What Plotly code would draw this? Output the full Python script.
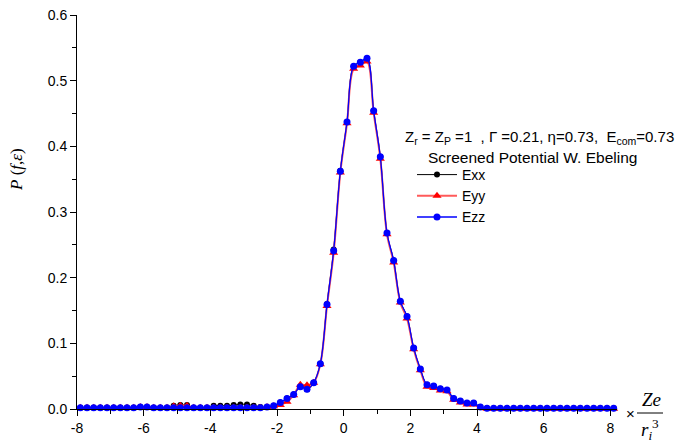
import plotly.graph_objects as go

x_vals = [-7.9, -7.7, -7.5, -7.3, -7.1, -6.9, -6.7, -6.5, -6.3, -6.1,
          -5.9, -5.7, -5.5, -5.3, -5.1, -4.9, -4.7, -4.5, -4.3, -4.1,
          -3.9, -3.7, -3.5, -3.3, -3.1, -2.9, -2.7, -2.5, -2.3, -2.1,
          -1.9, -1.7, -1.5, -1.3, -1.1, -0.9, -0.7, -0.5, -0.3, -0.1,
          0.1, 0.3, 0.5, 0.7, 0.9, 1.1, 1.3, 1.5, 1.7, 1.9,
          2.1, 2.3, 2.5, 2.7, 2.9, 3.1, 3.3, 3.5, 3.7, 3.9,
          4.1, 4.3, 4.5, 4.7, 4.9, 5.1, 5.3, 5.5, 5.7, 5.9,
          6.1, 6.3, 6.5, 6.7, 6.9, 7.1, 7.3, 7.5, 7.7, 7.9, 8.1]

exx = [0.002, 0.002, 0.002, 0.002, 0.002, 0.002, 0.002, 0.002, 0.002, 0.003,
       0.003, 0.002, 0.002, 0.002, 0.005, 0.006, 0.006, 0.002, 0.002, 0.002,
       0.005, 0.005, 0.005, 0.006, 0.007, 0.007, 0.005, 0.003, 0.003, 0.004,
       0.010, 0.016, 0.022, 0.034, 0.030, 0.040, 0.069, 0.160, 0.243, 0.363,
       0.437, 0.522, 0.528, 0.533, 0.454, 0.384, 0.268, 0.226, 0.164, 0.141,
       0.093, 0.061, 0.037, 0.035, 0.031, 0.029, 0.016, 0.012, 0.009, 0.009,
       0.003, 0.001, 0.001, 0.001, 0.001, 0.001, 0.001, 0.001, 0.001, 0.001,
       0.001, 0.001, 0.001, 0.001, 0.001, 0.001, 0.001, 0.001, 0.001, 0.001, 0.001]

eyy = [0.002, 0.002, 0.002, 0.002, 0.002, 0.002, 0.002, 0.002, 0.002, 0.003,
       0.003, 0.002, 0.002, 0.002, 0.004, 0.005, 0.005, 0.002, 0.002, 0.002,
       0.002, 0.002, 0.002, 0.002, 0.002, 0.002, 0.002, 0.002, 0.003, 0.004,
       0.006, 0.011, 0.021, 0.037, 0.036, 0.040, 0.068, 0.157, 0.238, 0.360,
       0.435, 0.518, 0.523, 0.529, 0.451, 0.381, 0.266, 0.223, 0.162, 0.138,
       0.091, 0.059, 0.034, 0.032, 0.028, 0.027, 0.014, 0.010, 0.007, 0.007,
       0.002, 0.0005, 0.0005, 0.0005, 0.0005, 0.0005, 0.0005, 0.0005, 0.0005, 0.0005,
       0.0005, 0.0005, 0.0005, 0.0005, 0.0005, 0.0005, 0.0005, 0.0005, 0.0005, 0.0005, 0.0005]

ezz = [0.002, 0.002, 0.002, 0.002, 0.002, 0.002, 0.002, 0.002, 0.002, 0.003,
       0.003, 0.002, 0.002, 0.002, 0.002, 0.002, 0.002, 0.002, 0.002, 0.002,
       0.002, 0.002, 0.002, 0.002, 0.002, 0.002, 0.002, 0.002, 0.003, 0.005,
       0.010, 0.016, 0.022, 0.034, 0.030, 0.040, 0.069, 0.159, 0.241, 0.362,
       0.437, 0.522, 0.528, 0.534, 0.454, 0.384, 0.268, 0.226, 0.164, 0.141,
       0.093, 0.061, 0.037, 0.035, 0.031, 0.029, 0.016, 0.012, 0.009, 0.009,
       0.003, 0.001, 0.001, 0.001, 0.001, 0.001, 0.001, 0.001, 0.001, 0.001,
       0.001, 0.001, 0.001, 0.001, 0.001, 0.001, 0.001, 0.001, 0.001, 0.001, 0.001]

x_ticks = [-8, -6, -4, -2, 0, 2, 4, 6, 8]
y_ticks = [0.0, 0.1, 0.2, 0.3, 0.4, 0.5, 0.6]
y_tick_labels = ["0.0", "0.1", "0.2", "0.3", "0.4", "0.5", "0.6"]

W, H = 680, 445
L, R, T, B = 77, 63, 15, 36
PW, PH = W - L - R, H - T - B


def px(xp):
    return (xp - L) / PW


def py(yp):
    return (H - B - yp) / PH


FONT = "Liberation Sans, Arial, sans-serif"
SERIF = "Liberation Serif, Times New Roman, serif"

fig = go.Figure()
fig.add_trace(go.Scatter(x=x_vals, y=exx, name="Exx", mode="lines+markers",
                         line=dict(color="black", width=1, shape="spline"),
                         marker=dict(symbol="circle", size=6, color="black"),
                         cliponaxis=False))
fig.add_trace(go.Scatter(x=x_vals, y=eyy, name="Eyy", mode="lines+markers",
                         line=dict(color="rgb(255,90,90)", width=2, shape="spline"),
                         marker=dict(symbol="triangle-up", size=8, color="red"),
                         cliponaxis=False))
fig.add_trace(go.Scatter(x=x_vals, y=ezz, name="Ezz", mode="lines+markers",
                         line=dict(color="blue", width=1.3, shape="spline"),
                         marker=dict(symbol="circle", size=7, color="blue"),
                         cliponaxis=False))

fig.update_layout(
    width=W, height=H, autosize=False,
    margin=dict(l=L, r=R, t=T, b=B, autoexpand=False),
    paper_bgcolor="white", plot_bgcolor="white",
    font=dict(family=FONT, size=14, color="black"),
    showlegend=True,
    legend=dict(x=px(412), y=py(159), xanchor="left", yanchor="top",
                bgcolor="rgba(0,0,0,0)", borderwidth=0,
                font=dict(family=FONT, size=14, color="black"),
                itemwidth=40, tracegroupgap=0),
)
fig.update_xaxes(range=[-8.0, 8.2], tickvals=x_ticks, ticktext=[str(v) for v in x_ticks],
                 showgrid=False, zeroline=False, showline=True, linecolor="black",
                 linewidth=1, ticks="outside", ticklen=6, tickcolor="black",
                 tickfont=dict(family=FONT, size=14), automargin=False,
                 minor=dict(dtick=1, tick0=0, ticks="outside", ticklen=4, tickcolor="black"))
fig.update_yaxes(range=[0, 0.6], tickvals=y_ticks, ticktext=y_tick_labels,
                 showgrid=False, zeroline=False, showline=True, linecolor="black",
                 linewidth=1, ticks="outside", ticklen=6, tickcolor="black",
                 tickfont=dict(family=FONT, size=14), automargin=False,
                 minor=dict(dtick=0.05, tick0=0, ticks="outside", ticklen=4, tickcolor="black"))

annos = [
    dict(x=px(16), y=py(170), text="<i>P</i> (<i>f</i>,<i>ε</i>)", textangle=-90,
         font=dict(family=SERIF, size=17)),
    dict(x=px(403), y=py(137), xanchor="left",
         text="Z<sub>r</sub> = Z<sub>P</sub> =1  , Γ =0.21, η=0.73,  E<sub>com</sub>=0.73",
         font=dict(family=FONT, size=15)),
    dict(x=px(532), y=py(157), text="Screened Potential W. Ebeling",
         font=dict(family=FONT, size=15.5)),
    dict(x=px(630), y=py(413), text="×", font=dict(family=FONT, size=15)),
    dict(x=px(651), y=py(399), text="<i>Ze</i>", font=dict(family=SERIF, size=19)),
    dict(x=px(650), y=py(429), text="<i>r<sub>i</sub></i><sup>3</sup>",
         font=dict(family=SERIF, size=19)),
]
for a in annos:
    a.setdefault("xref", "paper")
    a.setdefault("yref", "paper")
    a.setdefault("showarrow", False)
    a.setdefault("xanchor", "center")
    a.setdefault("yanchor", "middle")
    fig.add_annotation(**a)

fig.add_shape(type="line", xref="paper", yref="paper",
              x0=px(637), x1=px(663), y0=py(413), y1=py(413),
              line=dict(color="black", width=1))

fig.write_html("out.html")
